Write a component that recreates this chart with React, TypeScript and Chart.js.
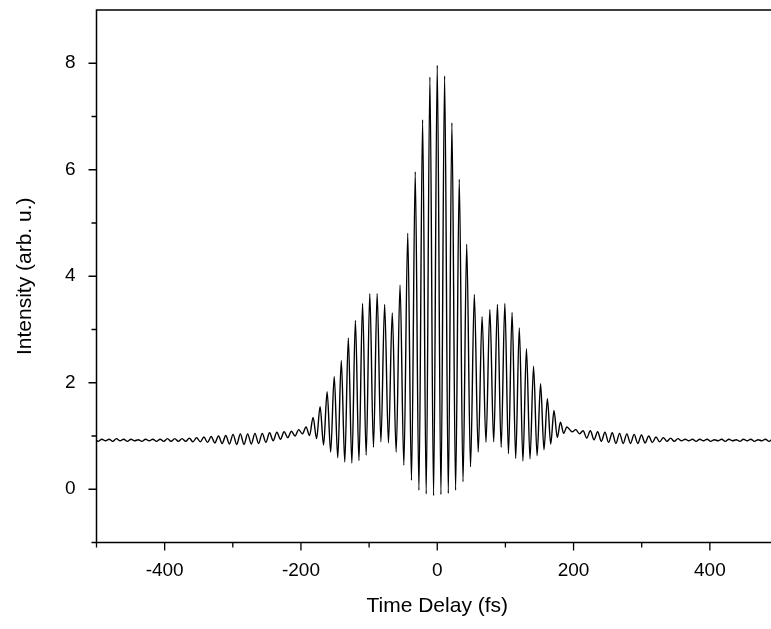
import { useEffect, useRef } from 'react';
import { Chart, registerables } from 'chart.js';

Chart.register(...registerables);

// Time delay (fs) of each fringe maximum / minimum
const wingLeftDelay = [
  -500, -497.55, -492.2, -486.85, -481.5, -476.15, -470.8, -465.45, -460.1, -454.75, -449.4,
  -444.05, -438.7, -433.35, -428, -422.65, -417.3, -411.95, -406.6, -401.25, -395.9, -390.55,
  -385.2, -379.85, -374.5, -369.15, -363.8, -358.45, -353.1, -347.75, -342.4, -337.05, -331.7,
  -326.35, -321, -315.65, -310.3, -304.95, -299.6, -294.25, -288.9, -283.55, -278.2, -272.85,
  -267.5, -262.15, -256.8, -251.45, -246.1, -240.75, -235.4, -230.05, -224.7, -219.35, -214,
  -208.65, -203.3, -197.95,
];
const wingLeftIntensity = [
  0.92, 0.90, 0.94, 0.91, 0.94, 0.90, 0.95, 0.91, 0.94, 0.90, 0.94,
  0.91, 0.93, 0.90, 0.94, 0.91, 0.94, 0.90, 0.94, 0.90, 0.95, 0.90,
  0.95, 0.90, 0.95, 0.90, 0.96, 0.89, 0.97, 0.89, 0.98, 0.88, 0.99,
  0.87, 1.00, 0.86, 1.01, 0.85, 1.03, 0.84, 1.04, 0.84, 1.04, 0.85,
  1.05, 0.86, 1.05, 0.88, 1.06, 0.91, 1.07, 0.94, 1.08, 0.97, 1.09,
  1.00, 1.12, 1.04,
];

const coreDelay = [
  -192.5, -187.4, -182.2, -177.1, -171.9, -166.8, -161.6, -156.4, -151.2, -146.0, -140.8, -135.7,
  -130.5, -125.3, -120.1, -114.9, -109.6, -104.3, -99.0, -93.6, -88.2, -82.7, -77.2, -71.6,
  -66.0, -60.3, -54.6, -49.0, -43.3, -37.8, -32.3, -26.9, -21.5, -16.2, -10.8, -5.4,
  0,
  5.4, 10.8, 16.2, 21.5, 26.9, 32.3, 37.8, 43.2, 48.8, 54.4, 60.1, 65.8,
  71.5, 77.2, 82.8, 88.3, 93.8, 99.2, 104.5, 109.8, 115.1, 120.4, 125.7, 130.9,
  136.1, 141.3, 146.5, 151.6, 156.6, 161.6, 166.5, 171.3, 176.1, 180.8, 185.5, 190.2,
];
const coreIntensity = [
  1.17, 1.01, 1.35, 0.95, 1.55, 0.83, 1.83, 0.70, 2.12, 0.59, 2.42, 0.51,
  2.84, 0.49, 3.17, 0.54, 3.49, 0.64, 3.67, 0.79, 3.67, 0.89, 3.47, 0.87,
  3.31, 0.70, 3.83, 0.45, 4.81, 0.17, 5.96, -0.02, 6.94, -0.09, 7.74, -0.12,
  7.96,
  -0.10, 7.76, -0.08, 6.88, -0.02, 5.82, 0.14, 4.60, 0.42, 3.66, 0.70, 3.24,
  0.88, 3.37, 0.89, 3.47, 0.79, 3.49, 0.67, 3.32, 0.58, 3.03, 0.53, 2.64,
  0.57, 2.31, 0.63, 1.98, 0.74, 1.70, 0.85, 1.48, 0.97, 1.26, 1.05, 1.17,
];

const wingRightDelay = [
  197.95, 203.3, 208.65, 214, 219.35, 224.7, 230.05, 235.4, 240.75, 246.1, 251.45,
  256.8, 262.15, 267.5, 272.85, 278.2, 283.55, 288.9, 294.25, 299.6, 304.95, 310.3,
  315.65, 321, 326.35, 331.7, 337.05, 342.4, 347.75, 353.1, 358.45, 363.8, 369.15,
  374.5, 379.85, 385.2, 390.55, 395.9, 401.25, 406.6, 411.95, 417.3, 422.65, 428,
  433.35, 438.7, 444.05, 449.4, 454.75, 460.1, 465.45, 470.8, 476.15, 481.5, 486.85,
  492.2, 497.55, 500,
];
const wingRightIntensity = [
  1.08, 1.12, 1.04, 1.10, 0.96, 1.10, 0.93, 1.08, 0.90, 1.07, 0.88,
  1.06, 0.86, 1.05, 0.86, 1.04, 0.86, 1.03, 0.86, 1.02, 0.87, 1.00,
  0.88, 0.98, 0.89, 0.97, 0.90, 0.96, 0.90, 0.95, 0.91, 0.94, 0.91,
  0.94, 0.90, 0.94, 0.91, 0.94, 0.90, 0.93, 0.91, 0.94, 0.90, 0.94,
  0.91, 0.93, 0.90, 0.94, 0.91, 0.94, 0.90, 0.93, 0.91, 0.94, 0.90,
  0.94, 0.91, 0.92,
];

const xTickLabels = [-400, -200, 0, 200, 400];
const xMinorTicks = [-500, -300, -100, 100, 300, 500];
const yTickLabels = [0, 2, 4, 6, 8];
const yMinorTicks = [-1, 1, 3, 5, 7];

const FONT = '"Liberation Sans", Arial, Helvetica, sans-serif';

export default function App() {
  const ref = useRef<HTMLCanvasElement>(null);

  useEffect(() => {
    const delays = [...wingLeftDelay, ...coreDelay, ...wingRightDelay];
    const values = [...wingLeftIntensity, ...coreIntensity, ...wingRightIntensity];
    const points = delays.map((x, i) => ({ x, y: values[i] }));

    const framePlugin = {
      id: 'frameTicks',
      afterDraw(chart: any) {
        const { ctx, chartArea: a, scales } = chart;
        const xs = scales.x;
        const ys = scales.y;
        ctx.save();
        ctx.strokeStyle = '#000';
        ctx.lineWidth = 1.5;
        ctx.strokeRect(a.left, a.top, a.right - a.left, a.bottom - a.top);
        ctx.lineWidth = 1.3;
        ctx.beginPath();
        xTickLabels.forEach((v) => {
          const p = xs.getPixelForValue(v);
          ctx.moveTo(p, a.bottom);
          ctx.lineTo(p, a.bottom + 8);
        });
        xMinorTicks.forEach((v) => {
          const p = xs.getPixelForValue(v);
          ctx.moveTo(p, a.bottom);
          ctx.lineTo(p, a.bottom + 5);
        });
        yTickLabels.forEach((v) => {
          const p = ys.getPixelForValue(v);
          ctx.moveTo(a.left, p);
          ctx.lineTo(a.left - 8, p);
        });
        yMinorTicks.forEach((v) => {
          const p = ys.getPixelForValue(v);
          ctx.moveTo(a.left, p);
          ctx.lineTo(a.left - 5, p);
        });
        ctx.stroke();
        ctx.restore();
      },
    };

    const hiddenGrid = {
      display: true,
      drawOnChartArea: false,
      drawTicks: true,
      tickLength: 8,
      color: 'rgba(0,0,0,0)',
    };

    const chart = new Chart(ref.current as HTMLCanvasElement, {
      type: 'line',
      data: {
        datasets: [
          {
            data: points,
            borderColor: '#000',
            borderWidth: 1.4,
            pointRadius: 0,
            cubicInterpolationMode: 'monotone',
            fill: false,
          },
        ],
      },
      options: {
        animation: false,
        responsive: false,
        devicePixelRatio: 1,
        layout: { padding: { top: 10, right: 12, left: 0, bottom: 0 } },
        plugins: { legend: { display: false }, tooltip: { enabled: false } },
        scales: {
          x: {
            type: 'linear',
            min: -500,
            max: 500,
            afterBuildTicks: (s: any) => {
              s.ticks = xTickLabels.map((v) => ({ value: v }));
            },
            afterFit: (s: any) => {
              s.height = 86.5;
              s.paddingLeft = 0;
              s.paddingRight = 0;
            },
            grid: hiddenGrid,
            border: { display: false },
            ticks: {
              color: '#000',
              font: { family: FONT, size: 19 },
              padding: 9,
              maxRotation: 0,
              autoSkip: false,
            },
            title: {
              display: true,
              text: 'Time Delay (fs)',
              color: '#000',
              font: { family: FONT, size: 21 },
              padding: { top: 0, bottom: 10 },
            },
          },
          y: {
            type: 'linear',
            min: -1,
            max: 9,
            afterBuildTicks: (s: any) => {
              s.ticks = yTickLabels.map((v) => ({ value: v }));
            },
            afterFit: (s: any) => {
              s.width = 96.5;
              s.paddingTop = 0;
              s.paddingBottom = 0;
            },
            grid: hiddenGrid,
            border: { display: false },
            ticks: {
              color: '#000',
              font: { family: FONT, size: 19 },
              padding: 13,
              autoSkip: false,
            },
            title: {
              display: true,
              text: 'Intensity (arb. u.)',
              color: '#000',
              font: { family: FONT, size: 21 },
              padding: { top: 13, bottom: 0 },
            },
          },
        },
      },
      plugins: [framePlugin],
    } as any);

    return () => chart.destroy();
  }, []);

  return (
    <div
      style={{
        position: 'fixed',
        left: 0,
        top: 0,
        width: 771,
        height: 629,
        overflow: 'hidden',
        background: '#fff',
      }}
    >
      <canvas ref={ref} width={790} height={629} style={{ display: 'block' }} />
    </div>
  );
}
